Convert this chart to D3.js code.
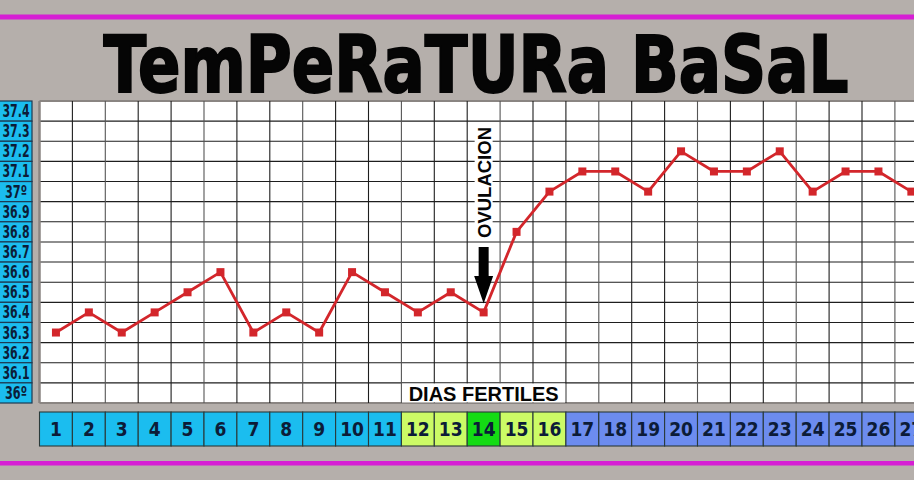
<!DOCTYPE html>
<html>
<head>
<meta charset="utf-8">
<script src="https://cdn.jsdelivr.net/npm/d3@7"></script>
<style>
  html, body { margin: 0; padding: 0; background: #b5afab; overflow: hidden; }
  svg { display: block; }
</style>
</head>
<body>
<svg id="chart" width="914" height="480"></svg>
<script>
// ---------- DATA ----------
const days = [1,2,3,4,5,6,7,8,9,10,11,12,13,14,15,16,17,18,19,20,21,22,23,24,25,26,27];
const temps = [36.3,36.4,36.3,36.4,36.5,36.6,36.3,36.4,36.3,36.6,36.5,36.4,36.5,36.4,36.8,37.0,37.1,37.1,37.0,37.2,37.1,37.1,37.2,37.0,37.1,37.1,37.0];
const dayPhase = ["pre","pre","pre","pre","pre","pre","pre","pre","pre","pre","pre",
                  "fertile","fertile","ovulation","fertile","fertile",
                  "post","post","post","post","post","post","post","post","post","post","post"];
const tempTicks = [37.4,37.3,37.2,37.1,37.0,36.9,36.8,36.7,36.6,36.5,36.4,36.3,36.2,36.1,36.0];
const tempLabels = ["37.4","37.3","37.2","37.1","37º","36.9","36.8","36.7","36.6","36.5","36.4","36.3","36.2","36.1","36º"];
const titleText = "TemPeRaTURa BaSaL";
const fertileLabel = "DIAS FERTILES";
const ovulationLabel = "OVULACION";
const ovulationDay = 14;
const fertileDays = [12, 16];

// ---------- LAYOUT ----------
const W = 914, H = 480;
const gridLeft = 39.5, colW = 32.9;
const gridTop = 101, gridBottom = 403;
const phaseColor = { pre: "#1bbdef", fertile: "#ccfb66", ovulation: "#14dc14", post: "#6c8cef" };
const navy = "#0c1c38";
const narrow = "'Liberation Sans Narrow', 'Arial Narrow', 'DejaVu Sans Condensed', sans-serif";

const svg = d3.select("#chart");
svg.append("rect").attr("width", W).attr("height", H).attr("fill", "#b5afab");

// magenta rules
svg.append("rect").attr("x", 0).attr("y", 14.5).attr("width", W).attr("height", 5).attr("fill", "#d61fd4");
svg.append("rect").attr("x", 0).attr("y", 461).attr("width", W).attr("height", 4.5).attr("fill", "#d61fd4");

// scales
const x = d3.scaleBand().domain(days).range([gridLeft, gridLeft + colW * days.length]).paddingInner(0).paddingOuter(0);
const yBand = d3.scaleBand().domain(tempTicks).range([gridTop, gridBottom]).padding(0);
const y = d3.scaleLinear()
  .domain([tempTicks[tempTicks.length - 1], tempTicks[0]])
  .range([gridBottom - yBand.bandwidth() / 2, gridTop + yBand.bandwidth() / 2]);

// ---------- TITLE ----------
svg.append("text")
  .attr("transform", "translate(476,92) scale(1,1.32)")
  .attr("text-anchor", "middle")
  .attr("font-family", "'DejaVu Sans', sans-serif")
  .attr("font-weight", 900)
  .attr("font-size", 60)
  .attr("fill", "#050505")
  .attr("stroke", "#050505").attr("stroke-width", 1.6)
  .attr("textLength", 745)
  .attr("lengthAdjust", "spacingAndGlyphs")
  .text(titleText);

// ---------- GRID ----------
const grid = svg.append("g");
grid.append("rect")
  .attr("x", gridLeft).attr("y", gridTop)
  .attr("width", colW * days.length).attr("height", gridBottom - gridTop)
  .attr("fill", "#ffffff");

grid.selectAll("line.h")
  .data(tempTicks.concat(["end"]))
  .join("line")
  .attr("class", "h")
  .attr("x1", gridLeft).attr("x2", gridLeft + colW * days.length)
  .attr("y1", (d, i) => gridTop + i * yBand.bandwidth())
  .attr("y2", (d, i) => gridTop + i * yBand.bandwidth())
  .attr("stroke", (d, i) => (i === 0 || i === tempTicks.length) ? "#8a8582" : "#1e1e1e")
  .attr("stroke-width", (d, i) => (i === 0 || i === tempTicks.length) ? 2 : 1.1);

grid.selectAll("line.v")
  .data(days.concat(["end"]))
  .join("line")
  .attr("class", "v")
  .attr("x1", (d, i) => gridLeft + i * colW)
  .attr("x2", (d, i) => gridLeft + i * colW)
  .attr("y1", gridTop).attr("y2", gridBottom)
  .attr("stroke", (d, i) => i === 0 ? "#8a8582" : (i % 3 === 2 ? "#555" : "#1e1e1e"))
  .attr("stroke-width", (d, i) => i === 0 ? 2.5 : 1.1);

// ---------- Y LABELS ----------
const yl = svg.append("g");
yl.selectAll("rect")
  .data(tempTicks)
  .join("rect")
  .attr("x", -14).attr("width", 46)
  .attr("y", d => yBand(d)).attr("height", yBand.bandwidth())
  .attr("fill", phaseColor.pre)
  .attr("stroke", "#1d3a52").attr("stroke-width", 1.2);
yl.selectAll("text")
  .data(tempTicks)
  .join("text")
  .attr("x", 16)
  .attr("y", d => yBand(d) + yBand.bandwidth() / 2 + 6)
  .attr("text-anchor", "middle")
  .attr("font-family", narrow)
  .attr("font-weight", "bold")
  .attr("font-size", 17)
  .attr("fill", navy)
  .attr("textLength", (d, i) => tempLabels[i].length > 3 ? 27 : 22)
  .attr("lengthAdjust", "spacingAndGlyphs")
  .text((d, i) => tempLabels[i]);

// ---------- DAY CELLS ----------
const dc = svg.append("g");
dc.selectAll("rect")
  .data(days)
  .join("rect")
  .attr("x", d => x(d)).attr("width", x.bandwidth())
  .attr("y", 412).attr("height", 34)
  .attr("fill", (d, i) => phaseColor[dayPhase[i]])
  .attr("stroke", "#2a3a3a").attr("stroke-width", 1.1);
dc.selectAll("text")
  .data(days)
  .join("text")
  .attr("x", d => x(d) + x.bandwidth() / 2)
  .attr("y", 436)
  .attr("text-anchor", "middle")
  .attr("font-family", narrow)
  .attr("font-weight", "bold")
  .attr("font-size", 19)
  .attr("fill", navy)
  .text(d => d);

// ---------- DIAS FERTILES ----------
const fx0 = x(fertileDays[0]), fx1 = x(fertileDays[1]) + x.bandwidth();
svg.append("rect")
  .attr("x", fx0 + 0.6).attr("y", yBand(tempTicks[tempTicks.length - 1]) + 0.6)
  .attr("width", fx1 - fx0 - 1.2).attr("height", yBand.bandwidth() - 1.2)
  .attr("fill", "#ffffff");
svg.append("text")
  .attr("x", (fx0 + fx1) / 2).attr("y", 401)
  .attr("text-anchor", "middle")
  .attr("font-family", "'Liberation Sans', Arial, sans-serif")
  .attr("font-weight", "bold")
  .attr("font-size", 20)
  .attr("fill", "#050505")
  .text(fertileLabel);

// ---------- OVULACION ----------
const ox = x(ovulationDay) + x.bandwidth() / 2;
svg.append("rect")
  .attr("x", ox - 9).attr("y", 124).attr("width", 18).attr("height", 117)
  .attr("fill", "#ffffff");
svg.append("text")
  .attr("transform", `translate(${ox + 7},${182.5}) rotate(-90)`)
  .attr("text-anchor", "middle")
  .attr("font-family", "'Liberation Sans', Arial, sans-serif")
  .attr("font-weight", "bold")
  .attr("font-size", 19)
  .attr("fill", "#050505")
  .attr("textLength", 111)
  .attr("lengthAdjust", "spacingAndGlyphs")
  .text(ovulationLabel);
const ovY = y(temps[days.indexOf(ovulationDay)]);
svg.append("path")
  .attr("d", `M${ox - 5},247 L${ox + 5},247 L${ox + 5},276 L${ox + 9.5},276 L${ox},${ovY - 9} L${ox - 9.5},276 L${ox - 5},276 Z`)
  .attr("fill", "#000");

// ---------- SERIES ----------
const pts = days.map((d, i) => [x(d) + x.bandwidth() / 2, y(temps[i])]);
svg.append("path")
  .attr("d", d3.line()(pts))
  .attr("fill", "none")
  .attr("stroke", "#d3262b")
  .attr("stroke-width", 2.8)
  .attr("stroke-linejoin", "round");
svg.selectAll("rect.pt")
  .data(pts)
  .join("rect")
  .attr("class", "pt")
  .attr("x", d => d[0] - 4).attr("y", d => d[1] - 4)
  .attr("width", 8).attr("height", 8)
  .attr("fill", "#d3262b");
</script>
</body>
</html>
